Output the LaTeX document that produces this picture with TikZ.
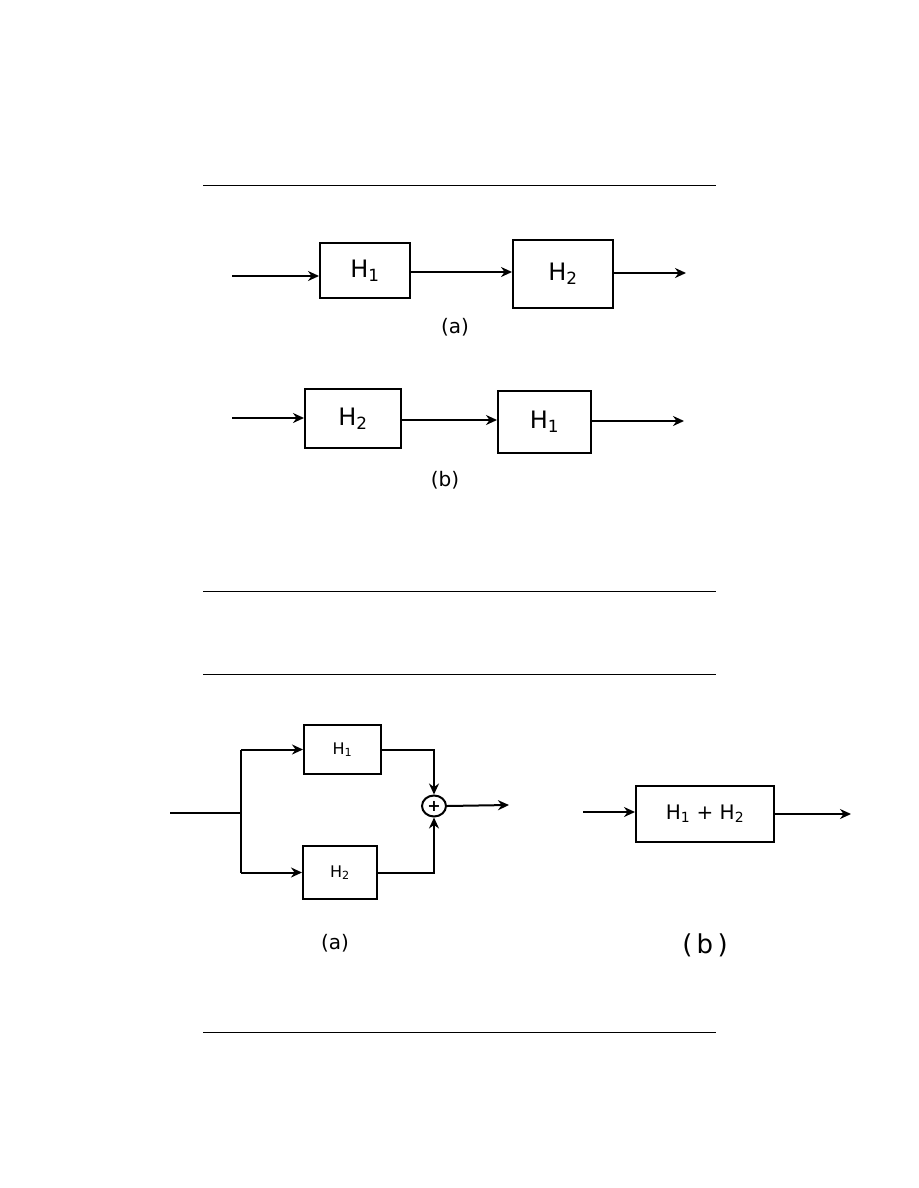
\documentclass[tikz,border=0pt]{standalone}
\usepackage{fontspec}
\setmainfont{DejaVu Sans}
\usetikzlibrary{arrows.meta,shapes.geometric}
\tikzset{
  blk/.style={draw, line width=2pt, inner sep=0pt, anchor=north west},
  flow/.style={line width=2pt, -{Stealth[length=11pt,width=10pt]}},
  wire/.style={line width=2pt},
  hrule/.style={line width=0.9pt},
  bigtxt/.style={font=\fontsize{24}{28}\selectfont},
  smalltxt/.style={font=\fontsize{16}{19}\selectfont},
  lbl/.style={font=\fontsize{20}{24}\selectfont}
}
\newcommand{\Hs}[1]{H\textsubscript{#1}}
\begin{document}
\begin{tikzpicture}[x=1pt,y=-1pt]
\useasboundingbox[fill=white] (0,0) rectangle (918,1188);
% horizontal rules
\coordinate (r1a) at (203,185); \coordinate (r1b) at (716,185);
\coordinate (r2a) at (203,591); \coordinate (r2b) at (716,591);
\coordinate (r3a) at (203,674); \coordinate (r3b) at (716,674);
\coordinate (r4a) at (203,1032); \coordinate (r4b) at (716,1032);
\draw[hrule] (r1a) -- (r1b);
\draw[hrule] (r2a) -- (r2b);
\draw[hrule] (r3a) -- (r3b);
\draw[hrule] (r4a) -- (r4b);

% ---- top (a)
\node[blk, minimum width=90pt, minimum height=55pt] (a1) at (319,242) {};
\node[bigtxt] (ta1) at (a1.center) {\Hs{1}};
\node[blk, minimum width=100pt, minimum height=68pt] (a2) at (512,239) {};
\node[bigtxt] (ta2) at (a2.center) {\Hs{2}};
\coordinate (ain) at (232,276);
\coordinate (aout) at (686,273);
\coordinate (am) at (0,272);
\draw[flow] (ain) -- (ain -| a1.west);
\draw[flow] (a1.east |- am) -- (a2.west |- am);
\draw[flow] (a2.east |- aout) -- (aout);
\node[lbl] (la) at (455,327) {(a)};

% ---- top (b)
\node[blk, minimum width=96pt, minimum height=59pt] (b1) at (304,388) {};
\node[bigtxt] (tb1) at (b1.center) {\Hs{2}};
\node[blk, minimum width=93pt, minimum height=62pt] (b2) at (497,390) {};
\node[bigtxt] (tb2) at (b2.center) {\Hs{1}};
\coordinate (bin) at (232,418);
\coordinate (bout) at (684,421);
\coordinate (bm) at (0,420);
\draw[flow] (bin) -- (bin -| b1.west);
\draw[flow] (b1.east |- bm) -- (b2.west |- bm);
\draw[flow] (b2.east |- bout) -- (bout);
\node[lbl] (lb) at (445,480) {(b)};

% ---- bottom (a) parallel
\node[blk, minimum width=77pt, minimum height=49pt] (p1) at (303,724) {};
\node[smalltxt] (tp1) at (p1.center) {\Hs{1}};
\node[blk, minimum width=74pt, minimum height=53pt] (p2) at (302,845) {};
\node[smalltxt] (tp2) at (p2.center) {\Hs{2}};
\node[ellipse, draw, line width=2pt, minimum width=24pt, minimum height=21pt, inner sep=0pt, font=\bfseries\fontsize{16}{18}\selectfont] (sum) at (434,806) {+};
\coordinate (pin) at (170,813);
\coordinate (split) at (241,813);
\coordinate (pout) at (509,805);
\draw[wire] (pin) -- (split);
\draw[wire] (split |- p1.west) -- (split |- p2.west);
\draw[flow] (split |- p1.west) -- (p1.west);
\draw[flow] (split |- p2.west) -- (p2.west);
\draw[flow] (p1.east) -| (sum.north);
\draw[flow] (p2.east) -| (sum.south);
\draw[flow] (sum.east) -- (pout);
\node[lbl] (lpa) at (335,943) {(a)};

% ---- bottom (b)
\node[blk, minimum width=138pt, minimum height=56pt] (s) at (635,785) {};
\node[font=\fontsize{20}{24}\selectfont] (ts) at (s.center) {\Hs{1} + \Hs{2}};
\coordinate (sin) at (583,812);
\coordinate (sout) at (851,814);
\draw[flow] (sin) -- (sin -| s.west);
\draw[flow] (s.east |- sout) -- (sout);
\node[font=\fontsize{26}{30}\selectfont] (lsb) at (705,945) {(\,b\,)};
\end{tikzpicture}
\end{document}
